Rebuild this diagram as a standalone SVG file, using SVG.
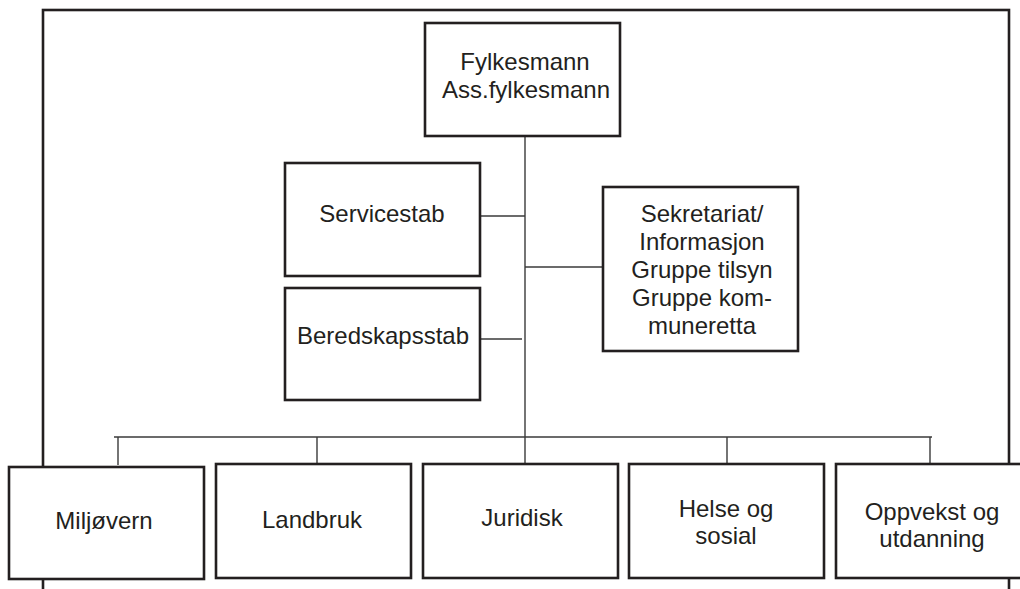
<svg xmlns="http://www.w3.org/2000/svg" width="1020" height="589" viewBox="0 0 1020 589">
<style>
.box{fill:#fff;stroke:#231f20;stroke-width:2.6}
.frame{fill:none;stroke:#231f20;stroke-width:2.6}
.con{fill:none;stroke:#3a3a3a;stroke-width:1.4}
text{font-family:"Liberation Sans",Arial,sans-serif;font-size:24px;fill:#231f20;text-anchor:middle}
</style>
<rect width="1020" height="589" fill="#fff"/>
<rect id="frame" class="frame" x="43" y="10" width="966" height="700"/>
<g id="connectors">
<line class="con" x1="525" y1="136" x2="525" y2="437"/>
<line class="con" x1="480" y1="216" x2="525" y2="216"/>
<line class="con" x1="480" y1="339" x2="522" y2="339"/>
<line class="con" x1="525" y1="267" x2="603" y2="267"/>
<line class="con" x1="114" y1="437" x2="932" y2="437"/>
<line class="con" x1="118" y1="437" x2="118" y2="465"/>
<line class="con" x1="317" y1="437" x2="317" y2="464"/>
<line class="con" x1="525" y1="437" x2="525" y2="464"/>
<line class="con" x1="727" y1="437" x2="727" y2="464"/>
<line class="con" x1="930" y1="437" x2="930" y2="464"/>
</g>
<g id="fylkesmann">
<rect class="box" x="425" y="23" width="195" height="113"/>
<text x="525" y="70">Fylkesmann</text>
<text x="526" y="98">Ass.fylkesmann</text>
</g>
<g id="servicestab">
<rect class="box" x="285" y="163" width="195" height="113"/>
<text x="382" y="222">Servicestab</text>
</g>
<g id="beredskapsstab">
<rect class="box" x="285" y="288" width="195" height="112"/>
<text x="383" y="344">Beredskapsstab</text>
</g>
<g id="sekretariat">
<rect class="box" x="603" y="187" width="195" height="164"/>
<text x="702" y="222">Sekretariat/</text>
<text x="702" y="250">Informasjon</text>
<text x="702" y="278">Gruppe tilsyn</text>
<text x="702" y="306">Gruppe kom-</text>
<text x="702" y="334">muneretta</text>
</g>
<g id="miljovern">
<rect class="box" x="9" y="467" width="195" height="112"/>
<text x="104" y="529">Miljøvern</text>
</g>
<g id="landbruk">
<rect class="box" x="216" y="464" width="195" height="114"/>
<text x="312" y="528">Landbruk</text>
</g>
<g id="juridisk">
<rect class="box" x="423" y="464" width="195" height="114"/>
<text x="522" y="526">Juridisk</text>
</g>
<g id="helse">
<rect class="box" x="629" y="464" width="195" height="114"/>
<text x="726" y="517">Helse og</text>
<text x="726" y="544">sosial</text>
</g>
<g id="oppvekst">
<rect class="box" x="836" y="464" width="195" height="114"/>
<text x="932" y="520">Oppvekst og</text>
<text x="932" y="547">utdanning</text>
</g>
</svg>
